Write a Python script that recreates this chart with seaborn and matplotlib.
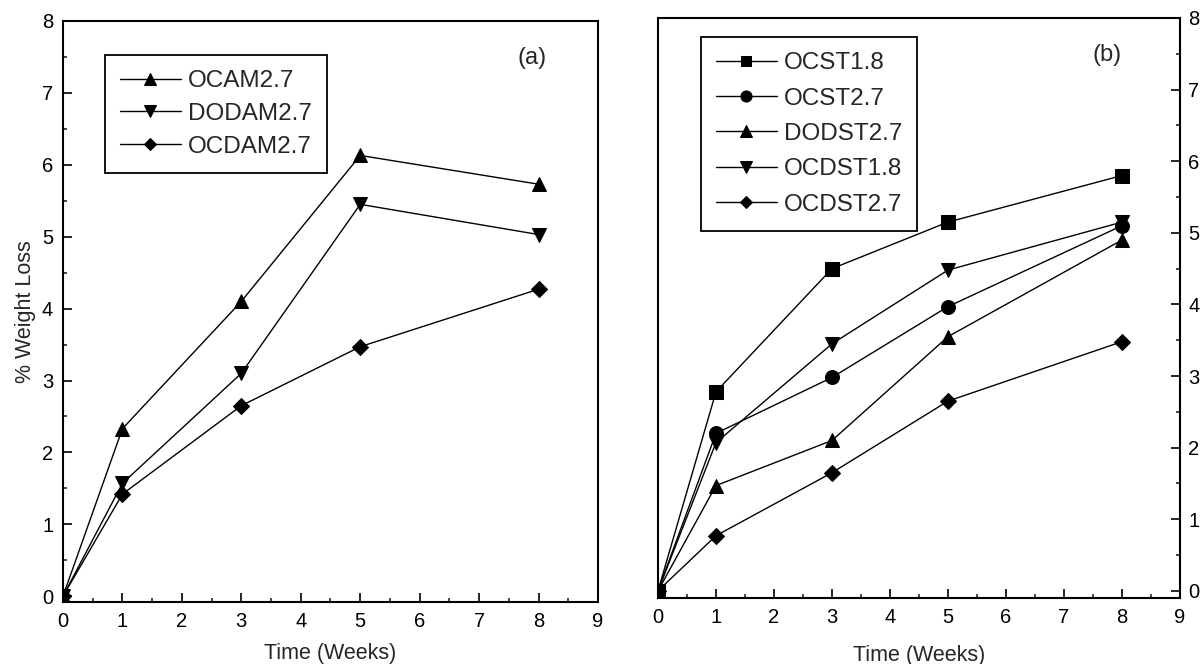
import numpy as np
import pandas as pd
import matplotlib
matplotlib.use("Agg")
import matplotlib.pyplot as plt
import seaborn as sns
from matplotlib.ticker import MultipleLocator

# ── data ────────────────────────────────────────────────────
weeks = [0, 1, 3, 5, 8]

names_a = ["OCAM2.7", "DODAM2.7", "OCDAM2.7"]
ocam27 = [0.0, 2.33, 4.10, 6.13, 5.73]
dodam27 = [0.0, 1.57, 3.10, 5.45, 5.03]
ocdam27 = [0.0, 1.42, 2.65, 3.47, 4.27]
markers_a = ["^", "v", "D"]

names_b = ["OCST1.8", "OCST2.7", "DODST2.7", "OCDST1.8", "OCDST2.7"]
ocst18 = [0.0, 2.78, 4.50, 5.15, 5.80]
ocst27 = [0.0, 2.20, 2.98, 3.97, 5.10]
dodst27 = [0.0, 1.47, 2.10, 3.55, 4.90]
ocdst18 = [0.0, 2.07, 3.45, 4.48, 5.15]
ocdst27 = [0.0, 0.77, 1.65, 2.65, 3.48]
markers_b = ["s", "o", "^", "v", "D"]

sns.set_style("white")
plt.rcParams["font.family"] = ["Liberation Sans", "DejaVu Sans"]

fig = plt.figure(figsize=(12.04, 6.64), dpi=100)
ax_a = fig.add_axes([0.0523, 0.0934, 0.4444, 0.875])
ax_b = fig.add_axes([0.5465, 0.0994, 0.4336, 0.8735])

msizes = {"s": 9.5, "o": 10, "^": 10.5, "v": 10.5, "D": 8}


def draw(ax, names, series, markers, ybottom, lspace):
    for name, vals, m in zip(names, series, markers):
        df = pd.DataFrame({"week": weeks, "loss": vals})
        sns.lineplot(data=df, x="week", y="loss", ax=ax, color="black",
                     linewidth=1.0, marker=m, markersize=msizes[m],
                     markeredgecolor="black", markerfacecolor="black",
                     label=name)
    ax.set_xlim(0, 9)
    ax.set_ylim(ybottom, 8)
    ax.xaxis.set_major_locator(MultipleLocator(1))
    ax.xaxis.set_minor_locator(MultipleLocator(0.5))
    ax.yaxis.set_major_locator(MultipleLocator(1))
    ax.yaxis.set_minor_locator(MultipleLocator(0.5))
    ax.tick_params(which="major", direction="in", length=6.5, width=1.2,
                   labelsize=14.5, colors="black", pad=7)
    ax.tick_params(which="minor", direction="in", length=3, width=1.2)
    for s in ax.spines.values():
        s.set_color("black")
        s.set_linewidth(1.5)
    leg = ax.legend(loc="upper left", fontsize=17.5, handlelength=2.5,
                    frameon=True, fancybox=False, edgecolor="black",
                    borderpad=0.62, labelspacing=lspace, handletextpad=0.3,
                    borderaxespad=0, framealpha=1, markerscale=0.8)
    leg.get_frame().set_linewidth(1.3)
    return leg


draw(ax_a, names_a, [ocam27, dodam27, ocdam27], markers_a, -0.08, 0.45)
ax_a.legend_.set_bbox_to_anchor((0.0785, 0.9415))
ax_a.set_xlabel("Time (Weeks)", fontsize=15.5, labelpad=9)
ax_a.set_ylabel("% Weight Loss", fontsize=15.5, labelpad=4)
ax_a.tick_params(axis="y", which="both", left=True, right=False)
ax_a.tick_params(axis="x", which="both", bottom=True, top=False)
ax_a.text(0.877, 0.936, "(a)", transform=ax_a.transAxes, fontsize=17,
          ha="center", va="center")

draw(ax_b, names_b, [ocst18, ocst27, dodst27, ocdst18, ocdst27], markers_b, -0.1, 0.55)
ax_b.legend_.set_bbox_to_anchor((0.082, 0.967))
ax_b.set_xlabel("Time (Weeks)", fontsize=15.5, labelpad=13)
ax_b.set_ylabel("")
ax_b.yaxis.tick_right()
ax_b.tick_params(axis="y", which="both", left=False, right=True)
ax_b.tick_params(axis="y", which="major", pad=6)
ax_b.tick_params(axis="x", which="both", bottom=True, top=False)
ax_b.text(0.860, 0.936, "(b)", transform=ax_b.transAxes, fontsize=17,
          ha="center", va="center")

fig.savefig("out.png", dpi=100)
